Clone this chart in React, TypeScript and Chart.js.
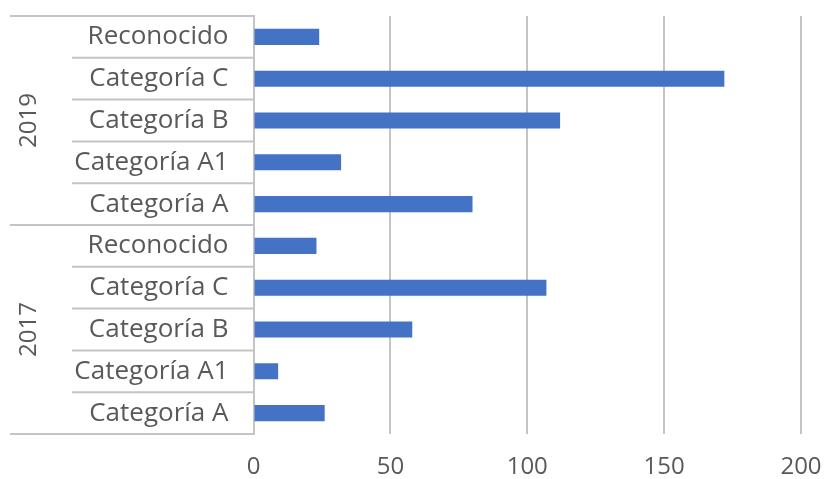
import React, { useEffect, useRef } from "react";
import { Chart, registerables } from "chart.js";

Chart.register(...registerables);

// Inner categories (top to bottom within each year group)
const categories = ["Reconocido", "Categoría C", "Categoría B", "Categoría A1", "Categoría A"];
// Outer groups (top to bottom)
const years = ["2019", "2017"];
const values2019 = [24, 172, 112, 32, 80];
const values2017 = [23, 107, 58, 9, 26];
const xTicks = [0, 50, 100, 150, 200];

const FONT = "'Open Sans', sans-serif";
const TEXT = "#595959";
const LINE = "#c4c4c4";

const labels = years.flatMap(() => categories);
const values = [...values2019, ...values2017];

// Draws the two-level category frame: row separators and rotated year labels.
const groupFrame = {
  id: "groupFrame",
  afterDraw(chart: any) {
    const ys = chart.scales.y;
    const { ctx } = chart;
    const n = ys.ticks.length;
    const per = categories.length;
    const bound = (k: number) =>
      k === 0 ? ys.top : k === n ? ys.bottom : (ys.getPixelForTick(k - 1) + ys.getPixelForTick(k)) / 2;
    ctx.save();
    ctx.strokeStyle = LINE;
    ctx.lineWidth = 2;
    for (let k = 0; k <= n; k++) {
      const yy = bound(k);
      const x0 = k % per === 0 ? 10 : 72;
      ctx.beginPath();
      ctx.moveTo(x0, yy);
      ctx.lineTo(ys.right, yy);
      ctx.stroke();
    }
    ctx.fillStyle = TEXT;
    ctx.font = `24px ${FONT}`;
    ctx.textAlign = "center";
    ctx.textBaseline = "middle";
    years.forEach((yr, g) => {
      const mid = (bound(g * per) + bound((g + 1) * per)) / 2;
      ctx.save();
      ctx.translate(29, mid);
      ctx.rotate(-Math.PI / 2);
      ctx.fillText(yr, 0, 0);
      ctx.restore();
    });
    ctx.restore();
  },
};

const noPad = (scale: any) => {
  scale.paddingTop = 0;
  scale.paddingBottom = 0;
  scale.paddingLeft = 0;
  scale.paddingRight = 0;
};

export default function App() {
  const ref = useRef<HTMLCanvasElement | null>(null);

  useEffect(() => {
    if (!ref.current) return;
    const chart = new Chart(ref.current, {
      type: "bar",
      data: {
        labels,
        datasets: [
          {
            data: values,
            backgroundColor: "#4472c4",
            categoryPercentage: 1,
            barPercentage: 0.385,
          },
        ],
      },
      options: {
        indexAxis: "y",
        animation: false,
        responsive: true,
        maintainAspectRatio: false,
        layout: { padding: { left: 0, top: 16, right: 23, bottom: 0 } },
        plugins: { legend: { display: false }, tooltip: { enabled: false } },
        scales: {
          x: {
            min: 0,
            max: 200,
            afterBuildTicks: (scale: any) => {
              scale.ticks = xTicks.map((v) => ({ value: v }));
            },
            afterFit: (scale: any) => {
              scale.height = 45;
              noPad(scale);
            },
            grid: { color: LINE, lineWidth: 2, drawTicks: false },
            border: { display: false },
            ticks: {
              padding: 19,
              color: TEXT,
              font: { family: FONT, size: 24 },
            },
          },
          y: {
            afterFit: (scale: any) => {
              scale.width = 253.5;
              noPad(scale);
            },
            grid: { display: false, drawTicks: false },
            border: { display: true, color: LINE, width: 2 },
            ticks: {
              padding: 25,
              color: TEXT,
              font: { family: FONT, size: 26 },
            },
          },
        },
      },
      plugins: [groupFrame],
    });
    return () => chart.destroy();
  }, []);

  return (
    <div style={{ position: "fixed", left: 0, top: 0, width: 824, height: 479, background: "#fff" }}>
      <canvas ref={ref} />
    </div>
  );
}
